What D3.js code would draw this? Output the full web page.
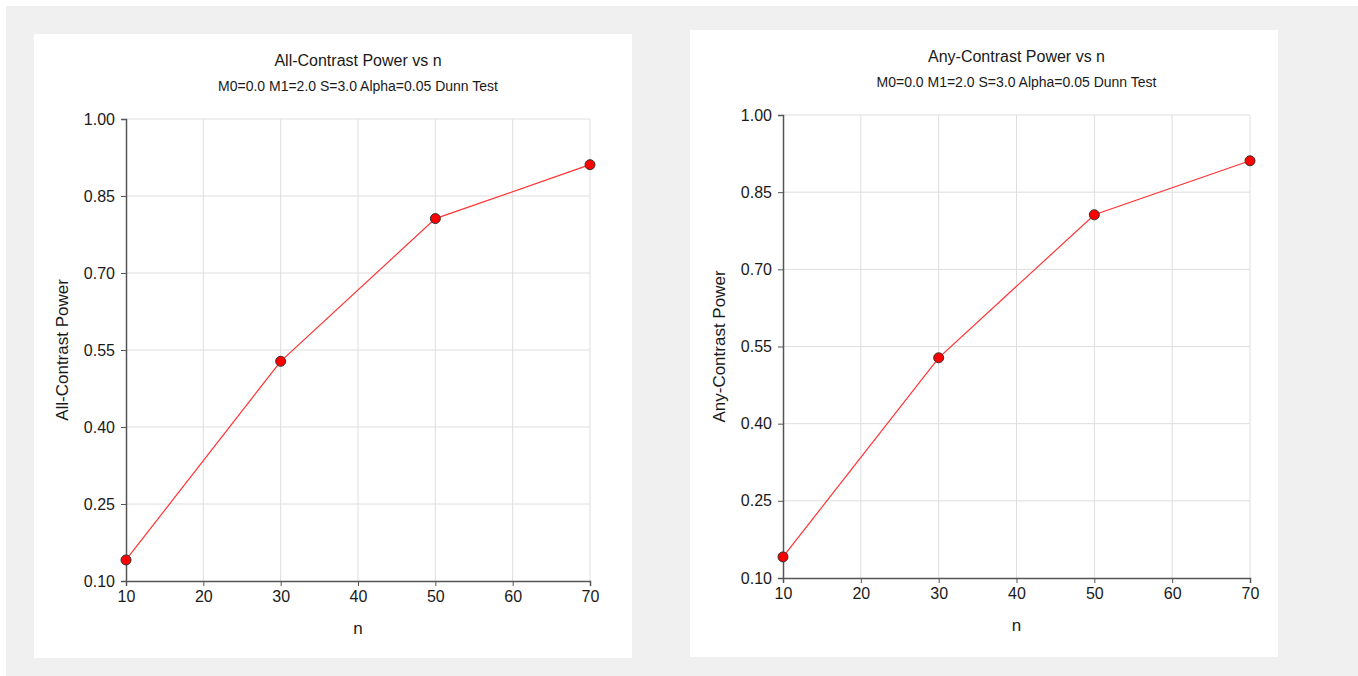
<!DOCTYPE html>
<html>
<head>
<meta charset="utf-8">
<script src="https://cdn.jsdelivr.net/npm/d3@7"></script>
<style>
  body { margin: 0; background: #ffffff; }
  svg { display: block; font-family: "Liberation Sans", Arial, sans-serif; }
</style>
</head>
<body>
<svg id="chart" width="1358" height="676"></svg>
<script>
// data
const nValues = [10, 30, 50, 70];
const allPower = [0.141, 0.528, 0.806, 0.911];
const anyPower = [0.141, 0.528, 0.806, 0.911];
const xTicks = [10, 20, 30, 40, 50, 60, 70];
const yTicks = [0.10, 0.25, 0.40, 0.55, 0.70, 0.85, 1.00];
const subtitle = "M0=0.0 M1=2.0 S=3.0 Alpha=0.05 Dunn Test";

const svg = d3.select("#chart");

svg.append("rect")
    .attr("x", 6).attr("y", 6)
    .attr("width", 1352).attr("height", 670)
    .attr("fill", "#f0f0f0");

function drawPanel(panel, title, yLabel, values) {
    const g = svg.append("g");

    g.append("rect")
        .attr("x", panel.x).attr("y", panel.y)
        .attr("width", panel.w).attr("height", panel.h)
        .attr("fill", "#ffffff");

    const x = d3.scaleLinear().domain([10, 70]).range([panel.left, panel.right]);
    const y = d3.scaleLinear().domain([0.10, 1.00]).range([panel.bottom, panel.top]);
    const cx = (panel.left + panel.right) / 2,
        cy = (panel.top + panel.bottom) / 2;

    // grid
    g.append("g").selectAll("line")
        .data(xTicks.slice(1))
        .join("line")
        .attr("x1", d => x(d)).attr("x2", d => x(d))
        .attr("y1", panel.top).attr("y2", panel.bottom)
        .attr("stroke", "#dedede").attr("stroke-width", 1);
    g.append("g").selectAll("line")
        .data(yTicks.slice(1))
        .join("line")
        .attr("x1", panel.left).attr("x2", panel.right)
        .attr("y1", d => y(d)).attr("y2", d => y(d))
        .attr("stroke", "#dedede").attr("stroke-width", 1);

    // axes
    const xAxis = g.append("g")
        .attr("transform", "translate(0," + panel.bottom + ")")
        .call(d3.axisBottom(x).tickValues(xTicks).tickSize(5).tickPadding(5).tickFormat(d3.format("d")));
    const yAxis = g.append("g")
        .attr("transform", "translate(" + panel.left + ",0)")
        .call(d3.axisLeft(y).tickValues(yTicks).tickSize(5).tickPadding(6).tickFormat(d3.format(".2f")));
    for (const ax of [xAxis, yAxis]) {
        ax.select(".domain").attr("stroke", "#555555").attr("stroke-width", 1.5);
        ax.selectAll(".tick line").attr("stroke", "#555555");
        ax.selectAll(".tick text")
            .attr("fill", "#1a1a1a")
            .attr("font-size", 16)
            .attr("font-family", "Liberation Sans, Arial, sans-serif");
    }

    // titles
    g.append("text")
        .attr("x", cx).attr("y", panel.y + 32)
        .attr("text-anchor", "middle")
        .attr("font-size", 16)
        .attr("fill", "#1a1a1a")
        .text(title);
    g.append("text")
        .attr("x", cx).attr("y", panel.y + 57)
        .attr("text-anchor", "middle")
        .attr("font-size", 14)
        .attr("fill", "#1a1a1a")
        .text(subtitle);
    g.append("text")
        .attr("x", cx).attr("y", panel.bottom + 53)
        .attr("text-anchor", "middle")
        .attr("font-size", 17)
        .attr("fill", "#1a1a1a")
        .text("n");
    g.append("text")
        .attr("transform", "translate(" + (panel.left - 58) + "," + cy + ") rotate(-90)")
        .attr("text-anchor", "middle")
        .attr("font-size", 17)
        .attr("fill", "#1a1a1a")
        .text(yLabel);

    // series
    const pts = nValues.map((n, i) => [n, values[i]]);
    g.append("path")
        .datum(pts)
        .attr("fill", "none")
        .attr("stroke", "#ff3333")
        .attr("stroke-width", 1.2)
        .attr("d", d3.line().x(d => x(d[0])).y(d => y(d[1])));
    g.append("g").selectAll("circle")
        .data(pts)
        .join("circle")
        .attr("cx", d => x(d[0]))
        .attr("cy", d => y(d[1]))
        .attr("r", 5)
        .attr("fill", "#ff0000")
        .attr("stroke", "#333333")
        .attr("stroke-width", 1);
}

drawPanel({x: 34, y: 34, w: 598, h: 624, left: 126, right: 590, top: 119, bottom: 581},
    "All-Contrast Power vs n", "All-Contrast Power", allPower);
drawPanel({x: 690, y: 30, w: 588, h: 627, left: 783, right: 1250, top: 115, bottom: 578},
    "Any-Contrast Power vs n", "Any-Contrast Power", anyPower);
</script>
</body>
</html>
